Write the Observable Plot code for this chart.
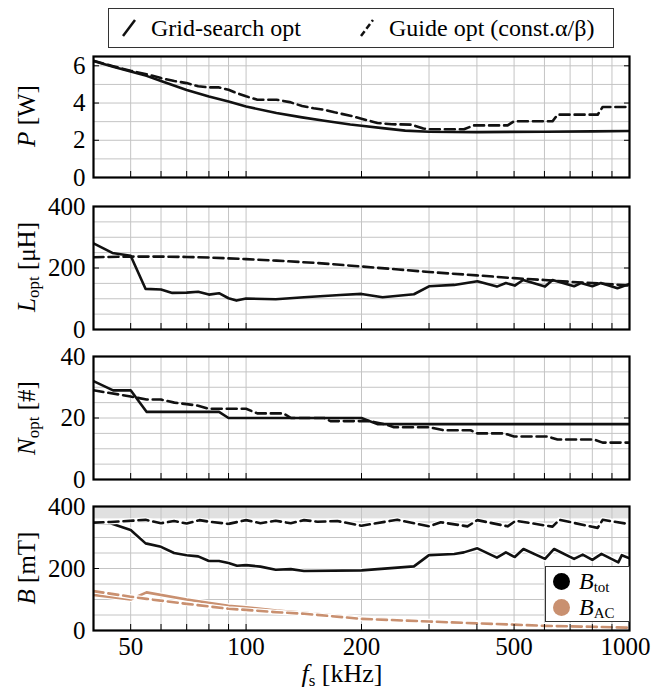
<!DOCTYPE html>
<html>
<head>
<meta charset="utf-8">
<script src="https://cdn.jsdelivr.net/npm/d3@7"></script>
<script src="https://cdn.jsdelivr.net/npm/@observablehq/plot@0.6"></script>
<style>
  html, body { margin: 0; padding: 0; background: #fff; }
  #wrap { position: relative; width: 651px; height: 689px; font-family: "Liberation Serif", "Times New Roman", serif; color: #000; overflow: hidden; }
  #wrap svg text { font-family: "Liberation Serif", "Times New Roman", serif !important; }
  .panel { position: absolute; left: 0; }
  .ylab { position: absolute; font-size: 25px; white-space: nowrap; transform: translate(-50%, -50%) rotate(-90deg); line-height: 1; }
  .ylab sub, .xlab sub { font-size: 17px; vertical-align: -0.25em; line-height: 0; }
  .xlab { position: absolute; font-size: 26px; white-space: nowrap; transform: translate(-50%, -50%); line-height: 1; }
  #legend { position: absolute; left: 108px; top: 8px; width: 506px; height: 40px; box-sizing: border-box; border: 1.5px solid #333; background: #fff; font-size: 24px; }
  #legend .item { position: absolute; top: 5px; display: flex; align-items: center; gap: 14px; line-height: 1.2; }
  #leg2 { position: absolute; left: 545px; top: 566px; width: 85px; height: 56px; box-sizing: border-box; border: 1.5px solid #333; background: #fff; font-size: 24px; }
  #leg2 .row { position: absolute; left: 7px; height: 22px; display: flex; align-items: center; gap: 9px; line-height: 1; }
  #leg2 .row sub { font-size: 15px; vertical-align: -0.2em; line-height: 0; }
  #leg2 .dot { width: 17px; height: 17px; border-radius: 50%; flex: none; }
</style>
</head>
<body>
<div id="wrap">
  <div id="legend">
    <div class="item" style="left:12px;">
      <svg width="16" height="24"><line x1="2" y1="20" x2="14" y2="4" stroke="#111" stroke-width="2.5"/></svg>
      <span>Grid-search opt</span>
    </div>
    <div class="item" style="left:250px;">
      <svg width="16" height="24"><line x1="2" y1="20" x2="14" y2="4" stroke="#111" stroke-width="2.5" stroke-dasharray="6,3"/></svg>
      <span>Guide opt (const.α/β)</span>
    </div>
  </div>
  <div class="ylab" style="left:26px; top:116px;"><i>P</i> [W]</div>
  <div class="ylab" style="left:26px; top:267px;"><i>L</i><sub>opt</sub> [μH]</div>
  <div class="ylab" style="left:26px; top:418px;"><i>N</i><sub>opt</sub> [#]</div>
  <div class="ylab" style="left:26px; top:568px;"><i>B</i> [mT]</div>
  <div class="xlab" style="left:342px; top:674px;"><i>f</i><sub>s</sub> [kHz]</div>
</div>
<script>
// ---------- Data ----------
// Panel 1: loss P [W]
const fP_grid  = [40,45,50,55,60,70,80,90,100,120,140,160,187,200,230,260,300,400,600,800,1000];
const P_grid   = [6.26,5.95,5.69,5.46,5.18,4.70,4.35,4.08,3.81,3.46,3.23,3.05,2.85,2.78,2.64,2.52,2.46,2.44,2.46,2.48,2.50];
const fP_guide = [40,45,50,55,60,65,70,75,80,85,90,95,100,107,120,130,140,150,160,170,187,200,220,240,270,290,300,370,393,481,500,630,649,826,851,1000];
const P_guide  = [6.27,5.98,5.73,5.55,5.34,5.18,5.07,4.90,4.84,4.84,4.71,4.52,4.36,4.18,4.18,4.05,3.84,3.72,3.64,3.50,3.32,3.16,2.93,2.86,2.84,2.63,2.59,2.59,2.80,2.80,3.02,3.02,3.375,3.375,3.79,3.79];

// Panel 2: L_opt [uH]
const fL_grid  = [40,44.8,50,54.7,60,64.2,70,75,80,85,90,94.4,100,119.5,141.6,176,200,227,274,300,349,401,451,476,502,528,602,630,717,747,800,842,930,1000];
const L_grid   = [280,249,240,132,130,119,120,123,113.5,118,101.6,94,100.5,98.4,105,112,115.7,105,114.6,140.5,145,156.8,139.5,151,142.7,161,139.5,161,140.5,151,140.5,151,134,148];
const fL_guide = [40,50,60,70,80,100,120,150,200,250,300,400,500,600,700,800,900,1000];
const L_guide  = [235,237,237,236,234,229,224,217,205,195,187,176,167,161,155,151,147,143];

// Panel 3: N_opt [#]
const fN_grid  = [40,45,50,55,85,90,200,220,1000];
const N_grid   = [32,29,29,22,22,20,20,18,18];
const fN_guide = [40,50,55,60,65,70,75,80,100,107,125,131,160,166,210,230,243,300,328,385,401,471,500,611,649,809,851,1000];
const N_guide  = [29,27,26,26,25,24.5,24,23,23,21.5,21.5,20,20,19,19,18,17,17,16,16,15,15,14,14,13,13,12,12];

// Panel 4: flux density B [mT]
const fBtot_grid  = [40,44.3,50,54.7,60,64.9,70,75,80,85,90,94.7,100,109,119.5,130.8,141.6,200,274,300,349,370,401,451,476,502,529,602,636,717,755,800,845,935,955,1000];
const Btot_grid   = [346,346,324,281,270,250,243,239,224,224,218,209,211,206,196,198,192,194,207,243,247,252,265,235,252,237,263,231,263,231,245,228,247,220,243,233];
const fBtot_guide = [40,44.3,54.7,60,64.9,70,75.6,80,90,100,109,119.5,130.8,141.6,153.5,173,200,211,248,300,322,378,401,481,505,630,656,826,851,1000];
const Btot_guide  = [348,350,357,346,353,345,356,351,344,356,346,354,346,356,351,353,338,343,357,336,349,336,356,336,354,335,357,331,357,343];
const fBac_grid   = [40,50,55,70,90,100,120,142,200,300,400,500,600,800,1000];
const Bac_grid    = [115,100,123,100,80,75,64,57,40,30,25,20,17,13,11];
const fBac_guide  = [40,50,55,70,90,100,120,142,200,300,400,500,600,800,1000];
const Bac_guide   = [127,109,102,86,70,66.5,59,54,37.5,29,23,19,15,12,9];
const Bsat_band   = [360, 400];

// Axes / grid
const xGrid   = [50,60,70,80,90,100,200,300,400,500,600,700,800,900];
const xLabels = [50,100,200,500];
const xLabelEnd = [1000];

const tan = "#c99070";
const zip = (fs, vs) => fs.map((f, i) => ({f, v: vs[i]}));

function panel({yDomain, yTicks, yStep, series, band, showX, inner, mb}) {
  const yGrid = d3.range(yDomain[0] + yStep, yDomain[1] - 1e-9, yStep);
  const marks = [];
  if (band) marks.push(Plot.rect([band], {x1: () => 40, x2: () => 1000, y1: d => d[0], y2: d => d[1], fill: "#e0e0e0"}));
  marks.push(Plot.ruleX(xGrid, {stroke: "#c4c4c4", strokeWidth: 1}));
  marks.push(Plot.ruleY(yGrid, {stroke: "#c4c4c4", strokeWidth: 1}));
  for (const s of series) {
    if (s.halo) marks.push(Plot.line(s.data, {x: "f", y: "v", stroke: "white", strokeWidth: 5, clip: true}));
    marks.push(Plot.line(s.data, {x: "f", y: "v", stroke: s.color, strokeWidth: 2.6, strokeDasharray: s.dash ? "10,5" : null, clip: true}));
  }
  marks.push(Plot.axisY({ticks: yTicks, anchor: "left", tickSize: -6, tickPadding: 14, tickFormat: d => String(d), label: null}));
  marks.push(Plot.axisY({ticks: yTicks, anchor: "right", tickSize: -6, tickFormat: () => "", label: null}));
  marks.push(Plot.axisX({ticks: xGrid, anchor: "bottom", tickSize: -6, tickFormat: () => "", label: null}));
  if (showX) {
    marks.push(Plot.axisX({ticks: xLabels, anchor: "bottom", tickSize: 0, tickPadding: 7, tickFormat: d => String(d), label: null, fontSize: 25}));
    marks.push(Plot.axisX({ticks: xLabelEnd, anchor: "bottom", tickSize: 0, tickPadding: 7, tickFormat: d => String(d), label: null, fontSize: 25, dx: -4}));
  }
  marks.push(Plot.frame({stroke: "black", strokeWidth: 2.2}));
  return Plot.plot({
    width: 651, height: 10 + inner + mb,
    marginLeft: 93, marginRight: 22, marginTop: 10, marginBottom: mb,
    style: {fontFamily: "'Liberation Serif', 'Times New Roman', serif", fontSize: "25px", overflow: "visible", background: "transparent", color: "black"},
    x: {type: "log", domain: [40, 1000]},
    y: {domain: yDomain},
    marks
  });
}

const wrap = document.getElementById("wrap");
const specs = [
  {top: 46, opts: {yDomain: [0, 6.5], yTicks: [0,2,4,6], yStep: 1, inner: 121, mb: 10,
    series: [{data: zip(fP_grid, P_grid), color: "#111"}, {data: zip(fP_guide, P_guide), color: "#111", dash: true}]}},
  {top: 196, opts: {yDomain: [0, 400], yTicks: [0,200,400], yStep: 50, inner: 123, mb: 10,
    series: [{data: zip(fL_grid, L_grid), color: "#111"}, {data: zip(fL_guide, L_guide), color: "#111", dash: true}]}},
  {top: 346, opts: {yDomain: [0, 40], yTicks: [0,20,40], yStep: 5, inner: 123, mb: 10,
    series: [{data: zip(fN_grid, N_grid), color: "#111"}, {data: zip(fN_guide, N_guide), color: "#111", dash: true}]}},
  {top: 496, opts: {yDomain: [0, 400], yTicks: [0,200,400], yStep: 50, inner: 124, mb: 60, band: Bsat_band, showX: true,
    series: [
      {data: zip(fBac_grid, Bac_grid), color: tan, halo: true},
      {data: zip(fBac_guide, Bac_guide), color: tan, dash: true, halo: true},
      {data: zip(fBtot_grid, Btot_grid), color: "#111", halo: true},
      {data: zip(fBtot_guide, Btot_guide), color: "#111", dash: true, halo: true}
    ]}}
];
for (const s of specs) {
  const el = panel(s.opts);
  el.classList.add("panel");
  el.style.top = s.top + "px";
  wrap.insertBefore(el, wrap.firstChild);
}

// in-panel legend for B
const leg2 = document.createElement("div");
leg2.id = "leg2";
leg2.innerHTML =
  '<div class="row" style="top:3px;"><div class="dot" style="background:#000"></div><span><i>B</i><sub>tot</sub></span></div>' +
  '<div class="row" style="top:29px;"><div class="dot" style="background:' + tan + '"></div><span><i>B</i><sub>AC</sub></span></div>';
wrap.appendChild(leg2);
</script>
</body>
</html>
